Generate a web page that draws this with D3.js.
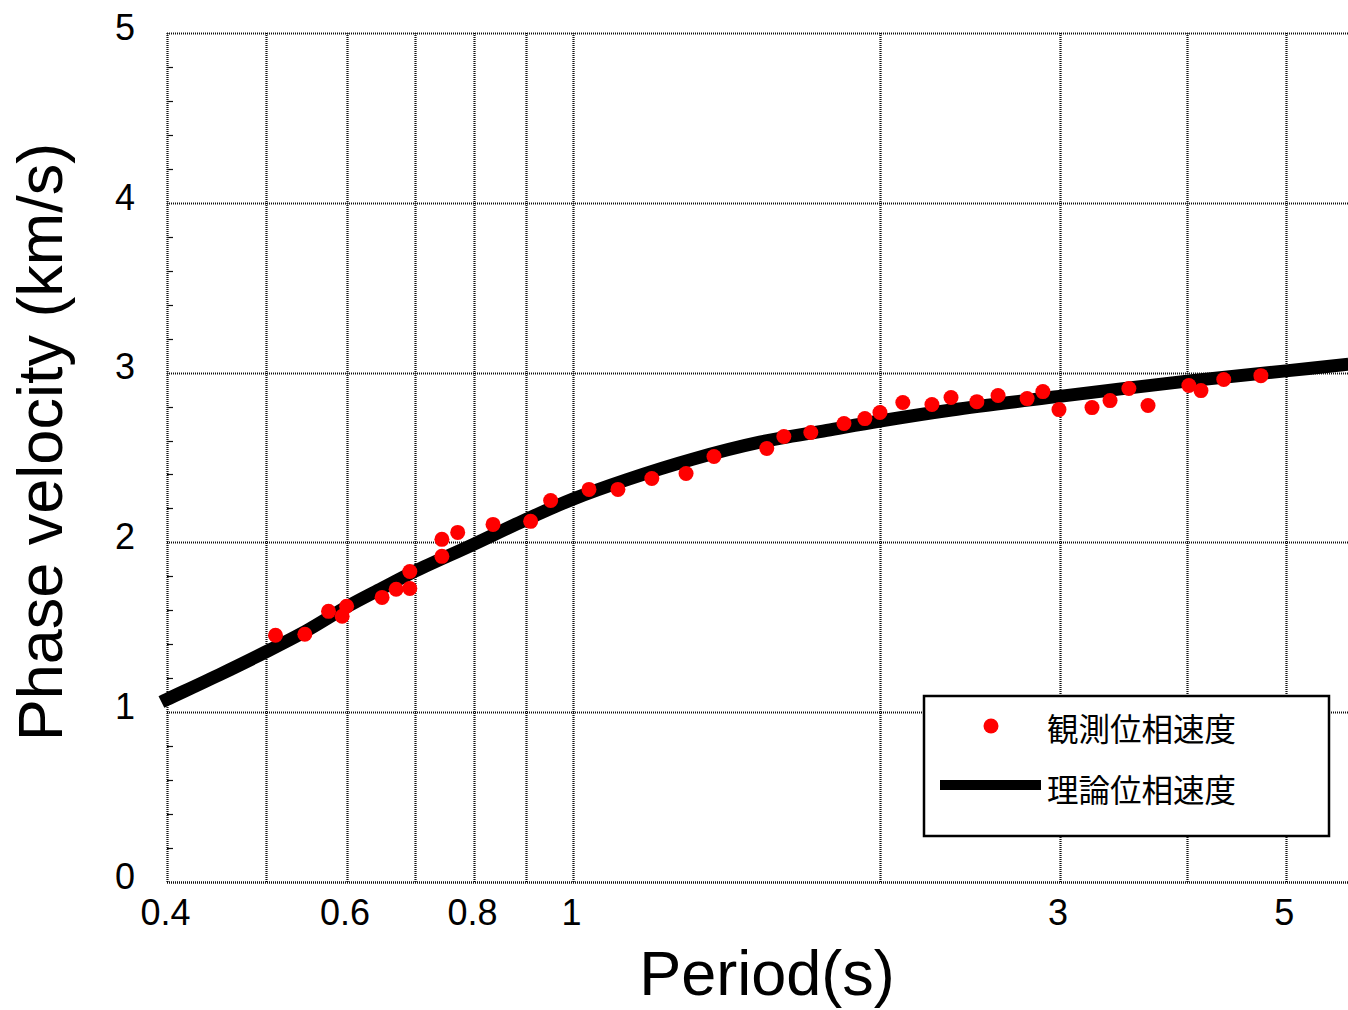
<!DOCTYPE html>
<html>
<head>
<meta charset="utf-8">
<script src="https://cdn.jsdelivr.net/npm/d3@7"></script>
<style>
  html, body { margin: 0; padding: 0; background: #fff; }
  svg { display: block; font-family: "Liberation Sans", Arial, sans-serif; }
</style>
</head>
<body>
<svg id="chart" width="1348" height="1010"></svg>
<script>
// Observed phase velocity (period s, velocity km/s)
const obsPeriods = [0.511, 0.546, 0.576, 0.594, 0.600, 0.650, 0.671, 0.692, 0.692, 0.744, 0.744, 0.771,
  0.835, 0.909, 0.951, 1.037, 1.107, 1.195, 1.291, 1.375, 1.549, 1.610, 1.711, 1.844, 1.933, 2.000,
  2.106, 2.249, 2.348, 2.489, 2.611, 2.788, 2.889, 2.996, 3.228, 3.362, 3.508, 3.663, 4.017, 4.128,
  4.346, 4.726];
const obsVelocities = [1.453, 1.459, 1.594, 1.565, 1.624, 1.676, 1.724, 1.729, 1.829, 2.018, 1.918, 2.059,
  2.106, 2.124, 2.247, 2.312, 2.312, 2.376, 2.406, 2.506, 2.553, 2.624, 2.647, 2.700, 2.729, 2.765,
  2.824, 2.812, 2.853, 2.829, 2.865, 2.847, 2.888, 2.782, 2.794, 2.835, 2.906, 2.806, 2.924, 2.894,
  2.959, 2.982];
// Theoretical phase velocity curve
const theoPeriods = [0.395, 0.4, 0.45, 0.5, 0.55, 0.6, 0.65, 0.7, 0.8, 0.9, 1.0, 1.13, 1.31, 1.525, 1.774, 2.0, 2.35, 3.0, 4.0, 5.0, 5.76];
const theoVelocities = [1.06, 1.076, 1.22, 1.355, 1.485, 1.62, 1.73, 1.83, 1.99, 2.135, 2.255, 2.37, 2.49, 2.59, 2.66, 2.715, 2.78, 2.86, 2.95, 3.01, 3.05];
// Axis ticks
const xGridValues = [0.5, 0.6, 0.7, 0.8, 0.9, 1, 2, 3, 4, 5];
const xTickValues = [0.4, 0.6, 0.8, 1, 3, 5];
const xTickLabels = ["0.4", "0.6", "0.8", "1", "3", "5"];
const yTickValues = [0, 1, 2, 3, 4, 5];
const yGridValues = [1, 2, 3, 4];
const legendLabels = ["観測位相速度", "理論位相速度"];
const xTitle = "Period(s)";
const yTitle = "Phase velocity (km/s)";

const svg = d3.select("#chart");
const L = 167, R = 1348, T = 33, B = 882;
const x = d3.scaleLog().domain([0.4, 5.753]).range([L, R]);
const y = d3.scaleLinear().domain([0, 5]).range([B, T]);

const gridColor = "#111";
const dash = "1,1";
const px = v => Math.round(v) + 0.5;

// gridlines
svg.append("g").selectAll("line").data(xGridValues).join("line")
  .attr("x1", d => px(x(d))).attr("x2", d => px(x(d))).attr("y1", T).attr("y2", B)
  .attr("stroke", gridColor).attr("stroke-width", 2.2).attr("stroke-dasharray", dash);
svg.append("g").selectAll("line").data(yGridValues).join("line")
  .attr("x1", L).attr("x2", R).attr("y1", d => px(y(d))).attr("y2", d => px(y(d)))
  .attr("stroke", gridColor).attr("stroke-width", 2.2).attr("stroke-dasharray", dash);

// frame (top, left, bottom)
svg.append("line").attr("x1", L).attr("x2", R).attr("y1", px(T)).attr("y2", px(T))
  .attr("stroke", gridColor).attr("stroke-width", 2.2).attr("stroke-dasharray", dash);
svg.append("line").attr("x1", px(L)).attr("x2", px(L)).attr("y1", T).attr("y2", B)
  .attr("stroke", gridColor).attr("stroke-width", 2.2).attr("stroke-dasharray", dash);
svg.append("line").attr("x1", L).attr("x2", R).attr("y1", px(B)).attr("y2", px(B))
  .attr("stroke", gridColor).attr("stroke-width", 2.4).attr("stroke-dasharray", dash);

// minor y ticks
const minorY = d3.range(0, 5.001, 0.2).filter(v => Math.abs(v - Math.round(v)) > 0.01);
svg.append("g").selectAll("line").data(minorY).join("line")
  .attr("x1", L).attr("x2", L + 6).attr("y1", d => px(y(d))).attr("y2", d => px(y(d)))
  .attr("stroke", gridColor).attr("stroke-width", 1.2);

// y axis labels
const yAxis = d3.axisLeft(y).tickValues(yTickValues).tickFormat(d3.format("d")).tickSize(0).tickPadding(0);
const gy = svg.append("g").attr("transform", `translate(${135},-1)`).call(yAxis);
gy.select(".domain").remove();
gy.selectAll("text").attr("font-size", 36).attr("font-family", "Liberation Sans, Arial, sans-serif")
  .attr("fill", "#000").attr("dy", "0.2em");

// x axis labels
const xAxis = d3.axisBottom(x).tickValues(xTickValues).tickFormat((d, i) => xTickLabels[i]).tickSize(0).tickPadding(0);
const gx = svg.append("g").attr("transform", `translate(-2,${899})`).call(xAxis);
gx.select(".domain").remove();
gx.selectAll("text").attr("font-size", 36).attr("font-family", "Liberation Sans, Arial, sans-serif")
  .attr("fill", "#000").attr("dy", "0.71em");

// theoretical curve
const theo = theoPeriods.map((p, i) => [p, theoVelocities[i]]);
svg.append("path").datum(theo)
  .attr("d", d3.line().x(d => x(d[0])).y(d => y(d[1])).curve(d3.curveCatmullRom.alpha(0.5)))
  .attr("fill", "none").attr("stroke", "#000").attr("stroke-width", 13);

// observed points
const obs = obsPeriods.map((p, i) => [p, obsVelocities[i]]);
svg.append("g").selectAll("circle").data(obs).join("circle")
  .attr("cx", d => x(d[0])).attr("cy", d => y(d[1])).attr("r", 7.5).attr("fill", "#ff0000");

// legend
const lg = svg.append("g");
lg.append("rect").attr("x", 924).attr("y", 696).attr("width", 405).attr("height", 140)
  .attr("fill", "#fff").attr("stroke", "#000").attr("stroke-width", 2.5);
lg.append("circle").attr("cx", 991).attr("cy", 726).attr("r", 7.5).attr("fill", "#ff0000");
lg.append("line").attr("x1", 940).attr("x2", 1041).attr("y1", 785).attr("y2", 785)
  .attr("stroke", "#000").attr("stroke-width", 10);
lg.selectAll("text").data(legendLabels).join("text")
  .attr("x", 1047).attr("y", (d, i) => 727 + i * 61)
  .attr("dominant-baseline", "central")
  .attr("font-family", "'Noto Sans CJK JP', sans-serif").attr("font-size", 31.5)
  .attr("fill", "#000").text(d => d);

// titles
svg.append("text").attr("x", 767).attr("y", 995).attr("text-anchor", "middle")
  .attr("font-size", 63).attr("fill", "#000").text(xTitle);
svg.append("text").attr("transform", `translate(62,442) rotate(-90)`).attr("text-anchor", "middle")
  .attr("font-size", 63).attr("fill", "#000").text(yTitle);
</script>
</body>
</html>
